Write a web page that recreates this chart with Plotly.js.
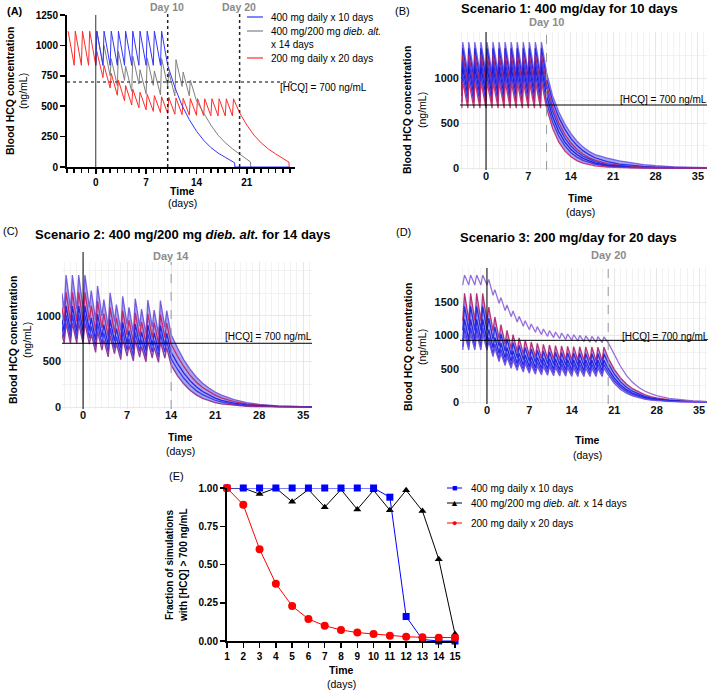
<!DOCTYPE html>
<html>
<head>
<meta charset="utf-8">
<script src="https://cdn.plot.ly/plotly-3.0.1.min.js"></script>
<style>
body { margin: 0; background: #fff; }
#chart { width: 709px; height: 690px; }
</style>
</head>
<body>
<div id="chart"></div>
<script>
const W = 709, H = 690;
const FONT = "Liberation Sans, Arial, Helvetica, sans-serif";

// ---------- (A) one profile per regimen: pre-dose trough and peak per dosing day ----------
let aRedDays = [-4,-3,-2,-1,0,1,2,3,4,5,6,7,8,9,10,11,12,13,14,15,16,17,18,19];
let aRedTrough = [null,836,836,836,836,735,650,590,545,510,488,470,458,448,440,434,430,427,425,423,421,420,420,420];
let aRedPeak = [1117,1117,1117,1117,950,835,770,713,670,640,615,598,587,578,572,568,565,563,562,561,561,561,561,561];
let aRedTailDays = [20,21,22,23,24,25,26,26.85,26.9];
let aRedTail = [445,345,262,198,148,108,72,40,0];

let aGrayDays = [0,1,2,3,4,5,6,7,8,9,10,11,12,13];
let aGrayTrough = [836,836,750,668,712,622,682,600,671,592,668,585,662,586];
let aGrayPeak = [1117,1000,890,950,830,910,800,895,790,891,780,883,781,713];
let aGrayTailDays = [14,15,16,17,18,19,20,21,21.5,21.55];
let aGrayTail = [545,440,345,262,200,150,105,65,42,0];

let aBlueDays = [0,1,2,3,4,5,6,7,8,9];
let aBlueTrough = [836,836,836,836,836,836,836,836,836,836];
let aBluePeak = [1117,1117,1117,1117,1117,1117,1117,1117,1117,1117];
let aBlueTailDays = [10,11,12,13,14,15,16,17,18,19,19.3,19.35,26.9];
let aBlueTail = [836,655,505,390,295,220,160,115,80,50,35,0,0];

// ---------- (B) scenario 1, a few simulated subjects ----------
let bDoseDays = [-4,-3,-2,-1,0,1,2,3,4,5,6,7,8,9];
let bPeak = [1400,1330,1260,1190,1120,1040,960];
let bTrough = [1060,990,930,870,800,730,665];
let bTailDays = [10,11,12,13,14,15,16,17,18,20,22,24,26,28,31,36.5];
let bTails = [
  [1060,800,625,490,385,300,235,185,150,110,80,56,38,25,12,3],
  [990,740,565,432,330,252,193,148,114,70,44,28,18,11,5,1],
  [930,680,505,375,280,208,155,116,87,50,29,17,10,6,2,0],
  [870,630,460,335,245,180,132,97,71,38,21,11,6,3,1,0],
  [800,570,405,290,208,150,107,77,55,28,14,7,4,2,1,0],
  [730,510,355,248,173,121,85,60,42,20,10,5,2,1,0,0],
  [665,440,290,190,125,82,54,36,24,10,4,2,1,0,0,0]
];
let bColors = ['#6a5ae6','#1f1fe6','#b3245e','#2a2af0','#1515d0','#3a2ee0','#c42a66'];

// ---------- (C) scenario 2 ----------
let cDoseDays = [-3,-2,-1,0,1,2,3,4,5,6,7,8,9,10,11,12,13];
let cStart = [1250,1090,960,880,800];
let cTroughs = [
  [1080,1080,1080,1080,1090,960,1000,885,940,845,910,820,890,805,880,800,877],
  [940,940,940,940,950,835,870,770,818,735,792,713,774,700,765,696,763],
  [830,830,830,830,840,735,770,680,725,650,700,630,685,620,678,615,675],
  [760,760,760,760,760,665,690,610,648,580,625,562,612,553,605,548,602],
  [700,700,700,700,690,600,625,550,585,520,560,505,548,495,540,490,537]
];
let cPeaks = [
  [1450,1450,1450,1450,1280,1330,1180,1255,1125,1215,1095,1190,1075,1175,1065,1170,1060],
  [1260,1260,1260,1260,1115,1160,1027,1092,979,1057,953,1035,935,1022,927,1017,922],
  [1110,1110,1110,1110,980,1020,905,960,860,930,840,910,825,900,815,895,810],
  [1010,1010,1010,1010,885,920,815,865,772,835,750,818,737,808,730,803,726],
  [920,920,920,920,800,830,735,780,695,750,675,732,662,722,655,717,650]
];
let cTailDays = [14,15,16,17,18,19,20,21,22,24,26,28,31,36.4];
let cTails = [
  [795,650,520,415,330,262,208,165,130,80,48,29,13,2],
  [690,560,445,350,275,215,168,130,100,58,33,19,8,1],
  [600,480,375,290,222,170,130,98,74,42,23,13,5,1],
  [530,415,318,240,180,135,100,74,55,30,16,8,3,0],
  [460,345,255,185,133,95,68,48,34,17,8,4,1,0]
];
let cColors = ['#6a50dc','#c02060','#1a1ae0','#2b2bf0','#8a2a88'];

// ---------- (D) scenario 3 (last row is the high outlier subject) ----------
let dDoseDays = [-4,-3,-2,-1,0,1,2,3,4,5,6,7,8,9,10,11,12,13,14,15,16,17,18,19];
let dTroughs = [
  [1220,1220,1220,1220,1220,1070,955,870,805,758,722,695,675,660,650,641,635,630,626,623,621,620,619,618],
  [1075,1075,1075,1075,1075,942,840,765,708,667,635,612,594,581,572,564,559,554,551,548,546,545,545,545],
  [930,930,930,930,930,814,727,662,612,576,549,528,513,502,494,487,483,479,476,474,472,472,472,472],
  [830,830,830,830,830,728,650,592,548,515,491,472,459,449,442,436,432,429,426,424,424,424,424,424],
  [780,780,780,780,780,680,605,548,505,473,449,431,417,407,400,394,390,387,384,382,382,382,382,382],
  [1755,1755,1755,1755,1755,1600,1480,1370,1280,1200,1135,1085,1045,1010,985,965,950,935,925,915,905,900,895,890]
];
let dPeaks = [
  [1630,1630,1630,1630,1425,1275,1160,1075,1010,963,927,900,880,865,855,846,840,835,831,828,826,825,824,823],
  [1435,1435,1435,1435,1255,1122,1020,945,888,847,815,792,774,761,752,744,739,734,731,728,726,725,725,725],
  [1240,1240,1240,1240,1085,969,882,817,767,731,704,683,668,657,649,642,638,634,631,629,627,627,627,627],
  [1110,1110,1110,1110,970,868,790,732,688,655,631,612,599,589,582,576,572,569,566,564,564,564,564,564],
  [1020,1020,1020,1020,905,805,730,673,630,598,574,556,542,532,525,519,515,512,509,507,507,507,507,507],
  [1905,1905,1905,1905,1840,1685,1565,1455,1365,1285,1220,1170,1130,1095,1070,1050,1035,1020,1010,1000,990,985,980,975]
];
let dTailDays = [20,21,22,23,24,25,26,27,28,30,32,34,36.3];
let dTails = [
  [660,490,365,270,200,150,110,82,61,34,19,11,5],
  [580,420,305,222,162,118,86,63,46,24,12,6,2],
  [500,360,258,185,133,96,69,50,36,18,9,4,1],
  [450,318,225,160,113,80,57,40,28,14,7,3,1],
  [405,280,192,132,91,62,43,29,20,9,4,2,0],
  [890,720,540,400,295,220,165,125,95,55,30,16,7]
];
let dColors = ['#b0206a','#2020e0','#1a1ad8','#3030f0','#6a4ad8','#8a60d8'];
let dLineLevel = 925; // the [HCQ] line sits here in the original panel

// ---------- (E) fraction above 700 ng/mL ----------
let eDays = [1,2,3,4,5,6,7,8,9,10,11,12,13,14,15];
let eBlue = [1,1,1,1,1,1,1,1,1,1,0.94,0.16,0.01,0,0];
let eBlack = [1,1,0.96,1,0.91,0.99,0.875,0.99,0.86,0.985,0.855,0.985,0.85,0.535,0.045];
let eRed = [1,0.89,0.60,0.375,0.228,0.144,0.10,0.072,0.055,0.046,0.035,0.028,0.024,0.022,0.022];

function profile(days, troughs, peaks, rise, tailDays, tail, start) {
  let xs = [], ys = [];
  if (start) { xs.push(start[0]); ys.push(start[1]); }
  for (let i = 0; i < days.length; i++) {
    if (troughs[i] !== null) { xs.push(days[i]); ys.push(troughs[i]); }
    xs.push(days[i] + rise); ys.push(peaks[i]);
  }
  for (let i = 0; i < tailDays.length; i++) { xs.push(tailDays[i]); ys.push(tail[i]); }
  return {x: xs, y: ys};
}

function line(p, ax, color, width, opacity) {
  return {x: p.x, y: p.y, xaxis: 'x' + ax, yaxis: 'y' + ax, type: 'scatter', mode: 'lines',
    line: {color: color, width: width}, opacity: opacity || 1, hoverinfo: 'skip'};
}

function band(top, bottom, ax) {
  return [
    {x: top.x, y: top.y, xaxis: 'x' + ax, yaxis: 'y' + ax, type: 'scatter', mode: 'lines', line: {width: 0}, hoverinfo: 'skip'},
    {x: bottom.x, y: bottom.y, xaxis: 'x' + ax, yaxis: 'y' + ax, type: 'scatter', mode: 'lines', line: {width: 0},
      fill: 'tonexty', fillcolor: 'rgba(60,60,228,0.45)', hoverinfo: 'skip'}
  ];
}

let data = [];

// A
data.push(line(profile(aRedDays, aRedTrough, aRedPeak, 0.15, aRedTailDays, aRedTail), '', '#ff2a2a', 1));
data.push(line(profile(aGrayDays, aGrayTrough, aGrayPeak, 0.15, aGrayTailDays, aGrayTail), '', '#808080', 1));
data.push(line(profile(aBlueDays, aBlueTrough, aBluePeak, 0.15, aBlueTailDays, aBlueTail), '', '#3333ff', 1));

// B
let bCurves = [];
for (let k = 0; k < bPeak.length; k++) {
  let tr = bDoseDays.map(function () { return bTrough[k]; });
  let pk = bDoseDays.map(function () { return bPeak[k]; });
  bCurves.push(profile(bDoseDays, tr, pk, 0.15, bTailDays, bTails[k]));
}
data = data.concat(band(bCurves[0], bCurves[bCurves.length - 1], '2'));
bCurves.forEach(function (p, k) { data.push(line(p, '2', bColors[k], 1.3, 0.9)); });

// C
let cCurves = [];
for (let k = 0; k < cPeaks.length; k++) {
  cCurves.push(profile(cDoseDays, cTroughs[k], cPeaks[k], 0.3, cTailDays, cTails[k], [-3.35, cStart[k]]));
}
data = data.concat(band(cCurves[0], cCurves[cCurves.length - 1], '3'));
cCurves.forEach(function (p, k) { data.push(line(p, '3', cColors[k], 1.3, 0.9)); });

// D
let dCurves = [];
for (let k = 0; k < dPeaks.length; k++) {
  dCurves.push(profile(dDoseDays, dTroughs[k], dPeaks[k], 0.3, dTailDays, dTails[k]));
}
data = data.concat(band(dCurves[0], dCurves[4], '4'));
dCurves.forEach(function (p, k) { data.push(line(p, '4', dColors[k], 1.3, 0.9)); });

// E
data.push({x: eDays, y: eBlack, xaxis: 'x5', yaxis: 'y5', type: 'scatter', mode: 'lines+markers', cliponaxis: false,
  line: {color: '#000', width: 1}, marker: {symbol: 'triangle-up', size: 7, color: '#000'}});
data.push({x: eDays, y: eBlue, xaxis: 'x5', yaxis: 'y5', type: 'scatter', mode: 'lines+markers', cliponaxis: false,
  line: {color: '#0000ff', width: 1}, marker: {symbol: 'square', size: 7, color: '#0000ff'}});
data.push({x: eDays, y: eRed, xaxis: 'x5', yaxis: 'y5', type: 'scatter', mode: 'lines+markers', cliponaxis: false,
  line: {color: '#ff0000', width: 1}, marker: {symbol: 'circle', size: 8, color: '#ff0000'}});

// ---------- layout helpers (pixel -> paper) ----------
function px(x) { return x / W; }
function py(y) { return 1 - y / H; }

let annotations = [];
function label(text, x, y, size, opts) {
  opts = opts || {};
  annotations.push({text: text, x: px(x), y: py(y), xref: 'paper', yref: 'paper', showarrow: false,
    xanchor: opts.anchor || 'center', yanchor: 'middle', textangle: opts.angle || 0, borderpad: 0,
    font: {family: FONT, size: size, color: opts.color || '#000', weight: opts.bold ? 700 : 400}});
}

let shapes = [];
function seg(x0, y0, x1, y1, xref, yref, color, width, dash) {
  shapes.push({type: 'line', x0: x0, y0: y0, x1: x1, y1: y1, xref: xref, yref: yref,
    line: {color: color, width: width, dash: dash || 'solid'}});
}

// A
label('<b>(A)</b>', 15, 11, 11);
label('Day 10', 167, 7, 10.5, {bold: true, color: '#8a8a8a'});
label('Day 20', 239, 7, 10.5, {bold: true, color: '#8a8a8a'});
label('Blood HCQ concentration', 10, 91, 10.5, {bold: true, angle: -90});
label('(ng/mL)', 23, 91, 10.5, {angle: -90});
label('Time', 182, 191, 10.5, {bold: true});
label('(days)', 182, 203, 10.5);
label('[HCQ] = 700 ng/mL', 279, 88, 10, {anchor: 'left'});
label('400 mg daily x 10 days', 270, 17, 10, {anchor: 'left'});
label('400 mg/200 mg <i>dieb. alt.</i>', 270, 31, 10, {anchor: 'left'});
label('x 14 days', 270, 44, 10, {anchor: 'left'});
label('200 mg daily x 20 days', 270, 58, 10, {anchor: 'left'});
seg(px(247), py(17), px(263), py(17), 'paper', 'paper', '#3333ff', 1.2);
seg(px(247), py(31), px(263), py(31), 'paper', 'paper', '#808080', 1.2);
seg(px(247), py(58), px(263), py(58), 'paper', 'paper', '#ff2a2a', 1.2);
seg(0, 0, 0, 1250, 'x', 'y', '#333', 1);
seg(10, py(167), 10, py(13), 'x', 'paper', '#222', 1.5, 'dot');
seg(20, py(167), 20, py(13), 'x', 'paper', '#222', 1.5, 'dot');
seg(-4, 700, 27.6, 700, 'x', 'y', '#555', 1.5, 'dot');

// B
label('(B)', 402, 11, 11);
label('<b>Scenario 1: 400 mg/day for 10 days</b>', 569, 8, 13);
label('Day 10', 546, 22, 11, {bold: true, color: '#8c8c8c'});
label('Blood HCQ concentration', 407, 110, 10.5, {bold: true, angle: -90});
label('(ng/mL)', 422, 110, 10.5, {angle: -90});
label('[HCQ] = 700 ng/mL', 663, 100, 10);
label('Time', 580, 198, 10.5, {bold: true});
label('(days)', 580, 212, 10.5);
seg(0, 0, 0, 1, 'x2', 'y2 domain', '#000', 1);
seg(10, 0, 10, 1, 'x2', 'y2 domain', '#999', 1, 'dash');
seg(0, 700, 1, 700, 'x2 domain', 'y2', '#000', 1);

// C
label('(C)', 10, 231, 11);
label('<b>Scenario 2: 400 mg/200 mg <i>dieb. alt.</i> for 14 days</b>', 183, 235, 13);
label('Day 14', 171, 256, 11, {bold: true, color: '#8c8c8c'});
label('Blood HCQ concentration', 13, 340, 10.5, {bold: true, angle: -90});
label('(ng/mL)', 27, 340, 10.5, {angle: -90});
label('[HCQ] = 700 ng/mL', 268, 336, 10);
label('Time', 180, 437, 10.5, {bold: true});
label('(days)', 180, 451, 10.5);
seg(0, py(409), 0, py(252), 'x3', 'paper', '#000', 1);
seg(14, 0, 14, 1, 'x3', 'y3 domain', '#999', 1, 'dash');
seg(0, 700, 1, 700, 'x3 domain', 'y3', '#000', 1);

// D
label('(D)', 403, 232, 11);
label('<b>Scenario 3: 200 mg/day for 20 days</b>', 568, 238, 13);
label('Day 20', 608, 255, 11, {bold: true, color: '#8c8c8c'});
label('Blood HCQ concentration', 408, 347, 10.5, {bold: true, angle: -90});
label('(ng/mL)', 422, 347, 10.5, {angle: -90});
label('[HCQ] = 700 ng/mL', 665, 336, 10);
label('Time', 587, 440, 10.5, {bold: true});
label('(days)', 587, 455, 10.5);
seg(0, 0, 0, 1, 'x4', 'y4 domain', '#000', 1);
seg(20, 0, 20, 1, 'x4', 'y4 domain', '#999', 1, 'dash');
seg(0, dLineLevel, 1, dLineLevel, 'x4 domain', 'y4', '#000', 1);

// E
label('(E)', 176, 476, 11);
label('Fraction of simulations', 169, 565, 10, {bold: true, angle: -90});
label('with [HCQ] > 700 ng/mL', 183, 565, 10, {bold: true, angle: -90});
label('Time', 341, 670, 10.5, {bold: true});
label('(days)', 341, 684, 10.5);
let eLegend = [
  {y: 488, color: '#0000ff', glyph: '■', text: '400 mg daily x 10 days'},
  {y: 503, color: '#000000', glyph: '▲', text: '400 mg/200 mg <i>dieb. alt.</i> x 14 days'},
  {y: 523, color: '#ff0000', glyph: '●', text: '200 mg daily x 20 days'}
];
eLegend.forEach(function (it) {
  seg(px(447), py(it.y), px(462), py(it.y), 'paper', 'paper', it.color, 1);
  label(it.glyph, 454.5, it.y, 9, {color: it.color});
  label(it.text, 470, it.y, 10, {anchor: 'left'});
});

// ---------- axes ----------
let tickBold = {family: FONT, size: 10, color: '#000', weight: 700};
let tickBold11 = {family: FONT, size: 11, color: '#111', weight: 700};

function prismAxis(extra) {
  return Object.assign({showline: true, linewidth: 2, linecolor: '#000', ticks: 'outside', ticklen: 5,
    tickwidth: 1.5, tickcolor: '#000', showgrid: false, zeroline: false, tickfont: tickBold, fixedrange: true}, extra);
}

function ggAxis(extra) {
  return Object.assign({showline: false, ticks: '', showgrid: true, gridcolor: '#e4e4e4', gridwidth: 0.8,
    zeroline: false, tickfont: tickBold11, fixedrange: true}, extra);
}

let gridX = {tickvals: [0,7,14,21,28,35], ticklabelstandoff: -2,
  minor: {dtick: 1, tick0: 0, showgrid: true, gridcolor: '#e9e9e9', gridwidth: 0.6}};

let layout = {
  width: W, height: H, autosize: false,
  margin: {l: 0, r: 0, t: 0, b: 0, pad: 0},
  paper_bgcolor: '#fff', plot_bgcolor: 'rgba(0,0,0,0)',
  showlegend: false,
  font: {family: FONT},
  xaxis: prismAxis({domain: [px(67), px(295)], range: [-4, 27.7], tickvals: [0,7,14,21], anchor: 'y',
    minor: {ticks: 'outside', ticklen: 4, tickwidth: 1.5, dtick: 1, tick0: 0, tickcolor: '#000'}}),
  yaxis: prismAxis({domain: [py(167), py(15)], range: [0, 1250], dtick: 250, anchor: 'x'}),

  xaxis2: ggAxis(Object.assign({domain: [px(460), px(707)], range: [-4.3, 36.5], anchor: 'y2'}, gridX)),
  yaxis2: ggAxis({domain: [py(170), py(32)], range: [-22, 1511], tickvals: [0,500,1000], anchor: 'x2',
    minor: {tickvals: [250,750,1250,1500], showgrid: true, gridcolor: '#e9e9e9', gridwidth: 0.6}}),

  xaxis3: ggAxis(Object.assign({domain: [px(62), px(312)], range: [-3.35, 36.4], anchor: 'y3'}, gridX)),
  yaxis3: ggAxis({domain: [py(409), py(262)], range: [-22, 1593], tickvals: [0,500,1000], anchor: 'x3',
    minor: {tickvals: [250,750,1250,1500], showgrid: true, gridcolor: '#e9e9e9', gridwidth: 0.6}}),

  xaxis4: ggAxis(Object.assign({domain: [px(460), px(707)], range: [-4.45, 36.3], anchor: 'y4'}, gridX)),
  yaxis4: ggAxis({domain: [py(404), py(268)], range: [-30, 2010], tickvals: [0,500,1000,1500], anchor: 'x4',
    minor: {tickvals: [250,750,1250,1750,2000], showgrid: true, gridcolor: '#e9e9e9', gridwidth: 0.6}}),

  xaxis5: prismAxis({domain: [px(227), px(455)], range: [1, 15], dtick: 1, anchor: 'y5'}),
  yaxis5: prismAxis({domain: [py(641), py(488)], range: [0, 1], tickvals: [0,0.25,0.5,0.75,1],
    ticktext: ['0.00','0.25','0.50','0.75','1.00'], anchor: 'x5'}),

  annotations: annotations,
  shapes: shapes
};

Plotly.newPlot('chart', data, layout, {staticPlot: true, displayModeBar: false});
</script>
</body>
</html>
